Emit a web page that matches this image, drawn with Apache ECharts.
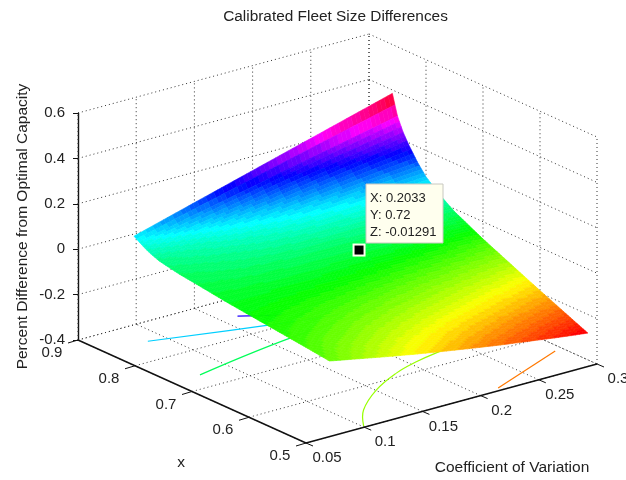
<!DOCTYPE html>
<html><head><meta charset="utf-8">
<style>html,body{margin:0;padding:0;background:#fff}#c{width:626px;height:480px}</style>
<script src="https://cdn.jsdelivr.net/npm/echarts@6/dist/echarts.min.js"></script>
</head><body><div id="c"></div>
<script>
// ---- data ----
const titleText = 'Calibrated Fleet Size Differences';
const cvTicks = [0.05, 0.1, 0.15, 0.2, 0.25, 0.3];
const xTicks = [0.5, 0.6, 0.7, 0.8, 0.9];
const zTicks = [-0.4, -0.2, 0, 0.2, 0.4, 0.6];
const surfaceCv = [0.078, 0.1, 0.125, 0.15, 0.175, 0.2, 0.225, 0.25, 0.275, 0.3];
const surfaceX = [0.859, 0.85, 0.84, 0.83, 0.815, 0.8, 0.78, 0.75, 0.7, 0.65, 0.6, 0.55, 0.516];
const surfaceZ = [
  [0.065, 0.097, 0.133, 0.169, 0.205, 0.241, 0.277, 0.313, 0.349, 0.385],
  [0.05, 0.074, 0.102, 0.129, 0.157, 0.185, 0.212, 0.24, 0.267, 0.295],
  [0.034, 0.054, 0.077, 0.099, 0.122, 0.145, 0.167, 0.19, 0.212, 0.235],
  [0.021, 0.038, 0.057, 0.076, 0.095, 0.114, 0.133, 0.152, 0.171, 0.19],
  [0.006, 0.019, 0.036, 0.051, 0.065, 0.079, 0.093, 0.107, 0.12, 0.132],
  [-0.002, 0.01, 0.021, 0.033, 0.044, 0.054, 0.063, 0.071, 0.078, 0.085],
  [-0.012, -0.003, 0.007, 0.016, 0.023, 0.029, 0.033, 0.036, 0.039, 0.04],
  [-0.022, -0.016, -0.011, -0.007, -0.004, -0.003, -0.002, -0.004, -0.007, -0.012],
  [-0.04, -0.039, -0.039, -0.04, -0.042, -0.046, -0.051, -0.058, -0.066, -0.076],
  [-0.055, -0.061, -0.068, -0.075, -0.083, -0.092, -0.102, -0.111, -0.122, -0.133],
  [-0.07, -0.082, -0.095, -0.109, -0.122, -0.136, -0.149, -0.163, -0.176, -0.19],
  [-0.085, -0.104, -0.124, -0.144, -0.163, -0.181, -0.198, -0.215, -0.23, -0.245],
  [-0.096, -0.118, -0.143, -0.167, -0.189, -0.21, -0.23, -0.248, -0.266, -0.282]
];
const contourBlue = [[0.164, 0.853], [0.19, 0.825]];
const contourCyan = [[0.086, 0.851], [0.171, 0.81], [0.22, 0.79]];
const contourGreen = [[0.074, 0.735], [0.18, 0.768], [0.3, 0.78]];
const contourLime = [[0.101, 0.503], [0.12, 0.542], [0.1505, 0.582], [0.1815, 0.61], [0.205, 0.624], [0.227, 0.633], [0.27, 0.645]];
const contourOrange = [[0.2185, 0.507], [0.293, 0.559]];
const contourLevels = [0.18, 0.08, -0.02, -0.12, -0.22];
const tipPoint = [0.2033, 0.72, -0.01291];

// ---- view ----
const ORIGIN = [78, 340], CV_V = [291, -79], X_V = [228, 103], Z_SCALE = 227;
const FONT = '"Liberation Sans", Arial, sans-serif', INK = '#222';
function project(cv, x, z) {
  const a = (cv - 0.05) / 0.25, b = (0.9 - x) / 0.4, c = z + 0.4;
  return [ORIGIN[0] + a * CV_V[0] + b * X_V[0], ORIGIN[1] + a * CV_V[1] + b * X_V[1] - c * Z_SCALE];
}
const flatZ = surfaceZ.flat();
const zLo = Math.min(...flatZ), zHi = Math.max(...flatZ);
function hsvColor(z) {
  const idx = Math.max(0, Math.min(63, Math.floor((z - zLo) / (zHi - zLo) * 64)));
  const h = idx / 64 * 6, i = Math.floor(h), f = h - i;
  const t = [[1, f, 0], [1 - f, 1, 0], [0, 1, f], [0, 1 - f, 1], [f, 0, 1], [1, 0, 1 - f]][i % 6];
  return 'rgb(' + t.map(v => Math.round(v * 255)).join(',') + ')';
}
// ---- helpers that build marks from the arrays ----
const ZFLOOR = zTicks[0], ZTOP = zTicks[zTicks.length - 1];
const CV0 = cvTicks[0], CV1 = cvTicks[cvTicks.length - 1], X0 = xTicks[0], X1 = xTicks[xTicks.length - 1];
const dotted = [];
cvTicks.forEach(c => {
  dotted.push([c, X0, ZFLOOR, c, X1, ZFLOOR]);
  dotted.push([c, X1, ZFLOOR, c, X1, ZTOP]);
});
xTicks.forEach(x => {
  dotted.push([CV0, x, ZFLOOR, CV1, x, ZFLOOR]);
  dotted.push([CV1, x, ZFLOOR, CV1, x, ZTOP]);
});
zTicks.forEach(z => {
  dotted.push([CV0, X1, z, CV1, X1, z]);
  dotted.push([CV1, X1, z, CV1, X0, z]);
});
const solid = [[CV0, X0, ZFLOOR, CV1, X0, ZFLOOR], [CV0, X0, ZFLOOR, CV0, X1, ZFLOOR]];
const contours = [contourBlue, contourCyan, contourGreen, contourLime, contourOrange];
const contourData = contours.map((pts, i) => ({ value: [i], pts, level: contourLevels[i] }));

const cells = [];
for (let r = 0; r < surfaceX.length - 1; r++)
  for (let c = surfaceCv.length - 2; c >= 0; c--) cells.push([r, c]);

function surfaceItem(params, api) {
  const r = api.value(0), c = api.value(1);
  const x0 = surfaceX[r], x1 = surfaceX[r + 1], c0 = surfaceCv[c], c1 = surfaceCv[c + 1];
  const Z = surfaceZ;
  const ny = Math.max(2, Math.round((x0 - x1) / 0.004)), nx = 7;
  const at = (u, v) => Z[r][c] * (1 - u) * (1 - v) + Z[r][c + 1] * u * (1 - v) + Z[r + 1][c] * (1 - u) * v + Z[r + 1][c + 1] * u * v;
  const pt = (u, v) => api.coord(project(c0 + (c1 - c0) * u, x0 + (x1 - x0) * v, at(u, v)));
  const children = [];
  for (let j = 0; j < ny; j++) for (let i = nx - 1; i >= 0; i--) {
    const u0 = i / nx, u1 = (i + 1) / nx, v0 = j / ny, v1 = (j + 1) / ny;
    const col = hsvColor(at((u0 + u1) / 2, (v0 + v1) / 2));
    children.push({ type: 'polygon', shape: { points: [pt(u0, v0), pt(u1, v0), pt(u1, v1), pt(u0, v1)] },
      style: { fill: col, stroke: col, lineWidth: 0.6 } });
  }
  return { type: 'group', children };
}
function lineItem(stroke, width, dash) {
  return function (params, api) {
    const a = api.coord(project(api.value(0), api.value(1), api.value(2)));
    const b = api.coord(project(api.value(3), api.value(4), api.value(5)));
    return { type: 'line', shape: { x1: a[0], y1: a[1], x2: b[0], y2: b[1] },
      style: { stroke, lineWidth: width, lineDash: dash } };
  };
}
function floorTickItem(list, dir, off) {
  return function (params, api) {
    const v = api.value(0);
    const p = list === 'cv' ? project(v, X0, ZFLOOR) : project(CV0, v, ZFLOOR);
    const a = api.coord(p);
    return { type: 'group', children: [
      { type: 'line', shape: { x1: a[0], y1: a[1], x2: a[0] + dir[0], y2: a[1] + dir[1] }, style: { stroke: '#111', lineWidth: 1 } },
      { type: 'text', style: { x: a[0] + off[0], y: a[1] + off[1], text: String(v), font: '15px ' + FONT, fill: INK, align: 'center', verticalAlign: 'middle' } }
    ] };
  };
}
function tipItem(params, api) {
  const a = api.coord(project(api.value(0), api.value(1), api.value(2)));
  const bx = Math.round(a[0]) + 7, by = Math.round(a[1]) - 66, pale = '#ffffee';
  const lines = ['X: ' + tipPoint[0], 'Y: ' + tipPoint[1], 'Z: ' + tipPoint[2]];
  return { type: 'group', children: [
    { type: 'rect', shape: { x: bx, y: by, width: 77, height: 59 }, style: { fill: pale, stroke: '#c8c8c0', lineWidth: 1 } },
    { type: 'rect', shape: { x: a[0] - 6.5, y: a[1] - 6.5, width: 13, height: 13 }, style: { fill: pale } },
    { type: 'rect', shape: { x: a[0] - 4.5, y: a[1] - 4.5, width: 9, height: 9 }, style: { fill: '#000' } }
  ].concat(lines.map((t, i) => ({ type: 'text', style: { x: bx + 4, y: by + 14.5 + i * 17, text: t, font: '13px ' + FONT, fill: INK, align: 'left', verticalAlign: 'middle' } }))) };
}

const chart = echarts.init(document.getElementById('c'), null, { renderer: 'canvas' });
const pixelAxis = (max, inverse) => ({ type: 'value', min: 0, max, inverse: !!inverse, show: false, gridIndex: 0 });
chart.setOption({
  animation: false,
  backgroundColor: '#fff',
  title: { text: titleText, left: 330.5, top: 4, textAlign: 'center',
    textStyle: { fontFamily: FONT, fontWeight: 'normal', fontSize: 15.4, color: INK } },
  grid: [
    { left: 0, top: 0, width: 626, height: 480, containLabel: false },
    { left: 78, top: 113, width: 10, height: 227, containLabel: false }
  ],
  xAxis: [pixelAxis(626), { type: 'value', gridIndex: 1, show: false, min: 0, max: 1 }],
  yAxis: [pixelAxis(480, true), {
    type: 'value', gridIndex: 1, min: zTicks[0], max: ZTOP, interval: 0.2, position: 'left',
    name: 'Percent Difference from Optimal Capacity', nameLocation: 'middle', nameGap: 47, nameRotate: 90,
    nameTextStyle: { fontFamily: FONT, fontSize: 15.5, color: INK },
    axisLine: { show: true, lineStyle: { color: '#111', width: 1.4 } },
    axisTick: { show: true, length: 5, lineStyle: { color: '#111' } },
    axisLabel: { fontFamily: FONT, fontSize: 15, color: INK, margin: 13, padding: [0, 0, 5, 0], formatter: v => String(Math.round(v * 10) / 10) },
    splitLine: { show: false }
  }],
  series: [
    { type: 'custom', name: 'grid lines', coordinateSystem: 'cartesian2d', z: 1, silent: true, clip: false,
      data: dotted, renderItem: lineItem('#333', 1, [1, 3]) },
    { type: 'custom', name: 'contours', coordinateSystem: 'cartesian2d', z: 2, silent: true, clip: false,
      data: contourData, renderItem: (params, api) => {
        const d = contourData[params.dataIndex];
        return { type: 'polyline', shape: { points: d.pts.map(p => api.coord(project(p[0], p[1], ZFLOOR))), smooth: 0.4 },
          style: { stroke: hsvColor(d.level), lineWidth: 1.2, fill: null } };
      } },
    { type: 'custom', name: 'surface', coordinateSystem: 'cartesian2d', z: 3, silent: true, clip: false,
      data: cells, renderItem: surfaceItem },
    { type: 'custom', name: 'axes', coordinateSystem: 'cartesian2d', z: 4, silent: true, clip: false,
      data: solid, renderItem: lineItem('#111', 1.4, null) },
    { type: 'custom', name: 'cv ticks', coordinateSystem: 'cartesian2d', z: 4, silent: true, clip: false,
      data: cvTicks.map(v => [v]), renderItem: floorTickItem('cv', [7, 3], [21, 15]) },
    { type: 'custom', name: 'x ticks', coordinateSystem: 'cartesian2d', z: 4, silent: true, clip: false,
      data: xTicks.map(v => [v]), renderItem: floorTickItem('x', [-10, 3], [-26, 13]) },
    { type: 'custom', name: 'axis names', coordinateSystem: 'cartesian2d', z: 4, silent: true, clip: false,
      data: [[0]], renderItem: () => ({ type: 'group', children: [
        { type: 'text', style: { x: 181, y: 463, text: 'x', font: '15.5px ' + FONT, fill: INK, align: 'center', verticalAlign: 'middle' } },
        { type: 'text', style: { x: 512, y: 468, text: 'Coefficient of Variation', font: '15.5px ' + FONT, fill: INK, align: 'center', verticalAlign: 'middle' } }
      ] }) },
    { type: 'custom', name: 'data tip', coordinateSystem: 'cartesian2d', z: 5, silent: true, clip: false,
      data: [tipPoint], renderItem: tipItem }
  ]
});
</script></body></html>
